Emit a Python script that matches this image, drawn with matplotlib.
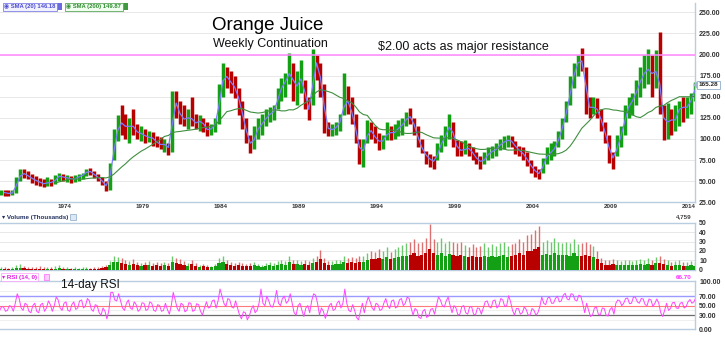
import matplotlib
matplotlib.use('Agg')
import matplotlib.pyplot as plt
import numpy as np
import pandas as pd
from matplotlib.patches import Polygon, Rectangle

# ---------------- data (quarterly, first quarter = Q4 1969) ----------------
first_quarter = 1969.75

price_low = [34,
    33, 33, 34, 36,   50, 54, 52, 48,   45, 44, 43, 44,   44, 47, 50, 50,   49, 48, 49, 50,
    52, 56, 57, 54,   50, 46, 38, 40,   75, 98, 105, 100, 95, 105, 100, 98, 95, 96, 92, 90,
    88, 85, 81, 84,   125, 118, 115, 112, 115, 112, 110, 108, 103, 105, 108, 118,
    150, 160, 155, 148, 128, 112, 95, 83, 88, 100, 105, 115, 120, 122, 135, 145,
    150, 165, 145, 140, 155, 135, 123, 140, 170, 150, 107, 103, 103, 105, 110, 128,
    130, 118, 95, 70,  67, 95, 100, 95, 87, 88, 99, 99,  100, 103, 105, 115, 118, 105, 90, 83,
    70, 67, 65, 75,   85, 92, 100, 90,  80, 80, 82, 80,   75, 70, 65, 70,   75, 78, 80, 87,
    88, 90, 90, 82,   80, 75, 68, 60,   55, 53, 60, 70,   75, 80, 90, 100,  120, 140, 160, 175,
    180, 130, 125, 130, 125, 110, 95, 72, 65, 80, 90, 105, 125, 128, 140, 150,
    160, 165, 150, 160, 130, 99, 100, 105, 110, 115, 120, 125, 130, 145]
price_high = [40,
    40, 39, 40, 55,   65, 64, 62, 58,   56, 54, 52, 55,   52, 57, 60, 58,   57, 56, 57, 58,
    60, 65, 66, 62,   58, 55, 50, 72,   112, 128, 140, 130, 125, 135, 118, 115, 112, 110, 108, 103,
    102, 100, 95, 157, 157, 145, 140, 135, 150, 130, 128, 125, 120, 118, 125, 165,
    190, 185, 180, 175, 160, 145, 125, 105, 115, 125, 130, 135, 138, 140, 160, 172,
    178, 202, 190, 180, 194, 170, 150, 206, 200, 190, 165, 120, 118, 120, 130, 178,
    163, 150, 130, 100, 100, 123, 120, 115, 107, 105, 120, 115, 118, 123, 125, 132, 137, 125, 115, 100,
    86, 82, 80, 95,   105, 115, 129, 120, 99, 98, 99, 95,  90, 85, 80, 85,   90, 92, 95, 100,
    103, 105, 104, 98, 92, 90, 85, 75,  68, 65, 78, 90,   95, 98, 110, 125, 145, 175, 190, 200,
    208, 185, 150, 150, 148, 135, 120, 105, 85, 105, 115, 140, 150, 155, 170, 185,
    200, 206, 200, 205, 227, 140, 143, 135, 140, 145, 150, 150, 155, 168]
price_close = [37,
    36, 35, 37, 52,   60, 58, 55, 52,   50, 48, 46, 50,   47, 55, 57, 53,   55, 51, 54, 56,
    58, 63, 60, 56,   53, 48, 41, 68,   100, 120, 118, 112, 118, 112, 105, 108, 100, 104, 98, 95,
    92, 95, 85, 150,  135, 125, 122, 128, 120, 118, 124, 112, 110, 114, 120, 160,
    178, 170, 165, 158, 140, 120, 100, 90, 108, 115, 120, 128, 130, 135, 155, 165,
    170, 185, 155, 170, 172, 140, 130, 195, 185, 160, 115, 110, 112, 115, 125, 150,
    140, 125, 100, 80,  92, 115, 105, 100, 95, 100, 110, 105, 110, 115, 118, 128, 125, 110, 95, 85,
    78, 75, 72, 90,   98, 108, 120, 95,  88, 85, 90, 88,   80, 75, 72, 78,   85, 85, 90, 95,
    97, 100, 95, 88,  85, 80, 72, 65,   60, 58, 75, 82,   85, 92, 105, 120, 140, 165, 185, 195,
    190, 140, 135, 140, 130, 115, 100, 80, 75, 100, 105, 135, 140, 150, 160, 175,
    180, 185, 170, 190, 140, 110, 130, 115, 130, 140, 135, 140, 150, 165]

volume_typ = [1,
    1, 1, 1, 2,   2, 2, 1, 1,   1, 1, 1, 1,   1, 1, 2, 1,   1, 1, 1, 1,   1, 1, 1, 1,
    1, 2, 3, 5,   8, 8, 7, 6,   5, 6, 5, 4,   5, 5, 4, 5,   4, 5, 4, 8,   7, 6, 5, 4,
    6, 4, 3, 4,   3, 3, 4, 7,   8, 6, 5, 4,   5, 4, 4, 4,   5, 4, 3, 4,   5, 4, 5, 6,
    5, 8, 6, 6,   5, 6, 5, 7,   8, 11, 7, 5,  5, 6, 6, 8,   7, 8, 7, 8,   8, 10, 11, 11,
    12, 11, 13, 11, 12, 13, 14, 15, 16, 18, 15, 16, 18, 22, 18, 16, 18, 15, 17, 16,
    15, 16, 14, 13, 15, 13, 13, 15, 13, 15, 13, 15, 16, 13, 15, 16, 18, 16, 20, 20,
    22, 24, 16, 17, 16, 18, 16, 16, 16, 15, 18, 15, 15, 16, 15, 13, 11, 7, 5, 5,
    6, 5, 5, 5,   5, 5, 5, 6,   5, 6, 5, 7,   7, 6, 5, 4,   5, 5, 4, 4,   5, 4]
volume_peak = [3,
    3, 2, 3, 5,   6, 4, 3, 3,   3, 4, 3, 3,   3, 4, 5, 3,   3, 2, 3, 2,   3, 3, 2, 3,
    3, 4, 5, 9,   14, 13, 12, 10, 9, 11, 8, 7,  8, 9, 7, 8,   7, 8, 7, 15,  12, 11, 9, 7,
    10, 7, 5, 6,  5, 4, 6, 12,  15, 10, 8, 7,  8, 7, 6, 7,   8, 6, 5, 7,   8, 7, 9, 10,
    9, 14, 10, 10, 9, 10, 9, 12, 14, 21, 12, 9, 9, 10, 10, 15, 12, 13, 12, 14, 14, 18, 20, 19,
    22, 20, 24, 19, 22, 24, 26, 28, 30, 33, 28, 30, 34, 49, 33, 30, 34, 28, 31, 30,
    28, 30, 26, 24, 27, 24, 25, 28, 24, 27, 25, 29, 30, 25, 27, 29, 33, 30, 37, 38,
    42, 47, 30, 32, 30, 34, 30, 29, 30, 28, 33, 27, 28, 30, 27, 25, 20, 12, 10, 10,
    11, 10, 9, 10, 10, 9, 10, 11, 10, 12, 10, 13, 14, 11, 10, 8,  9, 10, 8, 8,  9, 8]

rsi_low = [40,
    38, 40, 38, 55,   45, 40, 38, 35,   38, 35, 38, 45,   38, 50, 45, 40,   40, 38, 42, 45,
    45, 50, 42, 38,   35, 30, 22, 40,   62, 60, 45, 40,   45, 42, 38, 42,   40, 42, 40, 38,
    38, 40, 32, 50,   45, 38, 37, 40,   38, 40, 38, 30,   45, 47, 45, 60,   55, 48, 47, 45,
    30, 22, 20, 28,   35, 40, 55, 50,   48, 47, 55, 50,   55, 60, 35, 30,   40, 27, 35, 60,
    55, 30, 23, 35,   40, 42, 45, 55,   40, 37, 25, 20,   35, 55, 45, 40,   40, 42, 50, 44,
    45, 48, 50, 55,   45, 30, 25, 23,   25, 28, 32, 50,   50, 47, 50, 35,   30, 32, 35, 32,
    32, 30, 32, 45,   48, 45, 45, 50,   48, 50, 40, 30,   32, 35, 30, 30,   30, 35, 55, 52,
    55, 55, 58, 60,   64, 62, 62, 60,   55, 35, 27, 30,   32, 30, 30, 28,   32, 55, 50, 55,
    54, 55, 58, 55,   52, 50, 48, 55,   35, 27, 40, 44,   45, 44, 45, 48,   55, 58]
rsi_high = [48,
    47, 50, 48, 75,   65, 55, 52, 50,   55, 52, 55, 60,   52, 68, 62, 55,   58, 52, 58, 60,
    62, 65, 60, 52,   50, 45, 38, 78,   78, 75, 60, 55,   62, 58, 52, 56,   55, 58, 55, 52,
    50, 55, 42, 78,   62, 55, 52, 56,   55, 54, 52, 45,   58, 60, 62, 85,   70, 65, 62, 60,
    45, 37, 35, 42,   50, 55, 85, 70,   60, 60, 82, 65,   70, 75, 55, 50,   55, 45, 50, 75,
    72, 45, 38, 50,   55, 55, 60, 85,   55, 52, 40, 38,   55, 68, 58, 55,   52, 55, 65, 60,
    62, 62, 65, 68,   65, 44, 40, 38,   42, 42, 44, 68,   62, 60, 68, 50,   45, 48, 50, 47,
    48, 45, 44, 58,   60, 60, 62, 65,   62, 71, 58, 44,   44, 47, 42, 44,   40, 48, 68, 66,
    68, 65, 70, 72,   76, 75, 74, 72,   70, 55, 40, 45,   47, 45, 44, 42,   46, 62, 60, 65,
    66, 68, 68, 65,   64, 64, 62, 64,   55, 40, 55, 56,   57, 55, 57, 58,   63, 67]

x_tick_years = [1974, 1979, 1984, 1989, 1994, 1999, 2004, 2009, 2014]
price_ticks = [25, 50, 75, 100, 125, 150, 175, 200, 225, 250]
volume_ticks = [0, 10, 20, 30, 40, 50]
rsi_ticks = [0, 30, 50, 70, 100]
resistance_level = 200
last_price = 165.28
last_rsi = 66.70
last_volume = '4,759'
sma20_last = 146.18
sma200_last = 149.87

# ---------------- figure ----------------
W, H = 725, 339
fig = plt.figure(figsize=(W / 100, H / 100), dpi=100)
plt.rcParams['font.family'] = ['Liberation Sans', 'DejaVu Sans']

def fx(x):
    return x / W

def fy(y):
    return 1 - y / H

def add_ax(top, bottom):
    return fig.add_axes([0, fy(bottom), 695 / W, (bottom - top) / H])

ax = add_ax(3, 202.3)
axv = add_ax(222.5, 269.5)
axr = add_ax(281, 329.3)

frame = '#b9cde0'
for a in (ax, axv, axr):
    a.set_facecolor('white')
    a.spines['left'].set_visible(False)
    for s in ('right', 'bottom', 'top'):
        a.spines[s].set_color(frame)
        a.spines[s].set_linewidth(1.0)
    a.yaxis.tick_right()
    a.tick_params(axis='y', length=0, pad=3, labelsize=5, labelcolor='#333333')
    a.tick_params(axis='x', length=0)
ax.spines['top'].set_visible(False)

low = np.array(price_low, float)
high = np.array(price_high, float)
close = np.array(price_close, float)
n = len(close)
t = first_quarter + 0.125 + 0.25 * np.arange(n)
prev = np.r_[close[0], close[:-1]]
up = close >= prev
col = np.where(up, '#14a014', '#b80000')
mid = np.where(up, '#6cc86c', '#dd7070')

xmin = 1974 + (0 - 65) / 15.6
xmax = 1974 + (695 - 65) / 15.6

# main price panel
ax.set_xlim(xmin, xmax)
ax.set_ylim(25, 261)
ax.set_yticks(price_ticks)
ax.set_yticklabels([f'{v:.2f}' for v in price_ticks], fontweight='bold')
ax.grid(axis='y', color='#e8e8e8', lw=0.7)
ax.set_axisbelow(True)
ax.set_xticks(x_tick_years)
ax.set_xticklabels([str(y) for y in x_tick_years], fontsize=4.5, fontweight='bold', color='#333333')
ax.tick_params(axis='x', pad=1.5)

ax.vlines(t, low, high, colors=col, lw=2.5, zorder=2)
s = pd.Series(close)
sma20 = s.rolling(2).mean()
sma200 = s.rolling(15).mean()
ax.plot(t, sma20, color='#7d7dff', lw=0.9, zorder=3)
ax.plot(t, sma200, color='#3f8f3f', lw=0.8, zorder=3)
ax.axhline(resistance_level, color='#ff88ff', lw=1.1, zorder=4)

# volume panel
axv.set_xlim(xmin, xmax)
axv.set_ylim(0, 50.5)
axv.set_yticks(volume_ticks)
axv.set_yticklabels([str(v) for v in volume_ticks], fontweight='bold')
axv.grid(axis='y', color='#e8e8e8', lw=0.7)
axv.set_axisbelow(True)
axv.set_xticks([])
axv.vlines(t, 0, volume_peak, colors=mid, lw=1.0, zorder=2)
axv.bar(t, volume_typ, width=0.2, color=col, zorder=3)

# RSI panel
axr.set_xlim(xmin, xmax)
axr.set_ylim(0, 102)
axr.set_yticks(rsi_ticks)
axr.set_yticklabels([f'{v:.2f}' for v in rsi_ticks], fontweight='bold')
axr.set_xticks([])
for lvl in (20, 40, 60, 80):
    axr.axhline(lvl, color='#ececec', lw=0.6, zorder=1)
axr.axhline(70, color='#9a9aff', lw=1.0, zorder=2)
axr.axhline(50, color='#ff7a7a', lw=0.8, zorder=2)
axr.axhline(30, color='#6a6a6a', lw=0.9, zorder=2)
rt, rv = [], []
for i in range(n):
    a_, b_ = (rsi_low[i], rsi_high[i]) if i % 2 == 0 else (rsi_high[i], rsi_low[i])
    rt += [t[i] - 0.0625, t[i] + 0.0625]
    rv += [a_, b_]
axr.plot(rt, rv, color='#ff44ff', lw=0.7, zorder=3)

# ---------------- texts ----------------
fig.text(fx(268), fy(30), 'Orange Juice', fontsize=13.5, ha='center', va='baseline', color='black')
fig.text(fx(270), fy(47), 'Weekly Continuation', fontsize=9, ha='center', va='baseline', color='#111111')
fig.text(fx(463), fy(50), '$2.00 acts as major resistance', fontsize=9, ha='center', va='baseline', color='#111111')
fig.text(fx(90), fy(288), '14-day RSI', fontsize=8.5, ha='center', va='baseline', color='#111111')

# legend chips
fig.text(fx(4), fy(6.6), f'\u25c9 SMA (20) {sma20_last:.2f}', fontsize=4.2, fontweight='bold',
         color='#4a4ad0', va='center', ha='left',
         bbox=dict(boxstyle='square,pad=0.25', fc='#f2f2ff', ec='#8080e8', lw=0.6))
fig.text(fx(66.5), fy(6.6), f'\u25c9 SMA (200) {sma200_last:.2f}', fontsize=4.2, fontweight='bold',
         color='#2f8a2f', va='center', ha='left',
         bbox=dict(boxstyle='square,pad=0.25', fc='#f0fff0', ec='#5aa85a', lw=0.6))
fig.patches.append(Rectangle((fx(56.5), fy(9.5)), 5 / W, 6 / H, transform=fig.transFigure,
                             fc='#6a6ae0', ec='none'))
fig.patches.append(Rectangle((fx(123), fy(9.5)), 5 / W, 6 / H, transform=fig.transFigure,
                             fc='#3f9a3f', ec='none'))

# panel headers
fig.text(fx(2), fy(217), '\u25be Volume (Thousands)', fontsize=4.5, fontweight='bold',
         color='#1f2f5f', va='center', ha='left')
fig.patches.append(Rectangle((fx(70), fy(220)), 6 / W, 6 / H, transform=fig.transFigure,
                             fc='#dde8f5', ec='#8aa6c8', lw=0.5))
fig.text(fx(692), fy(217), last_volume, fontsize=4.5, fontweight='bold', color='#444444',
         va='center', ha='right')
fig.text(fx(2), fy(277), '\u25be RSI (14, 0)', fontsize=4.5, fontweight='bold',
         color='#e020e0', va='center', ha='left',
         bbox=dict(boxstyle='square,pad=0.2', fc='white', ec='#ff9cff', lw=0.5))
fig.patches.append(Rectangle((fx(44), fy(280)), 5 / W, 6 / H, transform=fig.transFigure,
                             fc='#ffccff', ec='#ff66ff', lw=0.5))
fig.text(fx(692), fy(277.5), f'{last_rsi:.2f}', fontsize=4.5, fontweight='bold', color='#ff33ff',
         va='center', ha='right')

# last price tag
fig.text(fx(708.5), fy(85), f'{last_price:.2f}', fontsize=4.6, fontweight='bold', color='#222222',
         ha='center', va='center',
         bbox=dict(boxstyle='square,pad=0.3', fc='white', ec='#9fb8d0', lw=0.7))
fig.patches.append(Polygon([(fx(693), fy(85)), (fx(697.5), fy(81)), (fx(697.5), fy(89))],
                           closed=True, transform=fig.transFigure, fc='#9fb8d0', ec='none'))

fig.savefig('out.png', dpi=100, facecolor='white')
